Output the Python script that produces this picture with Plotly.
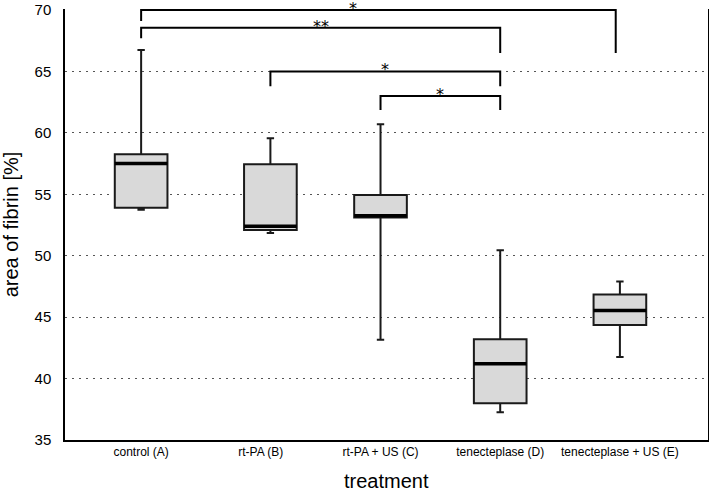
import plotly.graph_objects as go

# ---- data ----
categories = ["control (A)", "rt-PA (B)", "rt-PA + US (C)", "tenecteplase (D)", "tenecteplase + US (E)"]
upper_whisker = [66.75, 59.55, 60.7, 50.45, 47.9]
q3_values = [58.25, 57.45, 54.95, 43.2, 46.85]
medians = [57.5, 52.4, 53.25, 41.2, 45.55]
q1_values = [53.9, 52.1, 53.1, 38.0, 44.35]
lower_whisker = [53.75, 51.85, 43.15, 37.25, 41.75]

bracket_from = [0, 0, 1, 2]
bracket_to = [4, 3, 3, 3]
bracket_heights = [70.0, 68.55, 65.0, 63.0]
bracket_left_ends = [69.1, 67.7, 63.8, 61.85]
bracket_right_ends = [66.5, 66.5, 63.8, 61.85]
bracket_labels = ["*", "**", "*", "*"]

y_ticks = [35, 40, 45, 50, 55, 60, 65, 70]

# ---- layout helpers ----
pos = [0, 1.08, 2, 3, 4]   # box centre positions (B drawn slightly right in original)
box_w = 0.44
label_x = [1.77, 1.5, None, None]

fig = go.Figure()

fig.add_trace(go.Box(
    x=pos, q1=q1_values, median=medians, q3=q3_values,
    lowerfence=lower_whisker, upperfence=upper_whisker,
    width=box_w, whiskerwidth=0.14,
    fillcolor="#d9d9d9", line=dict(color="#1a1a1a", width=2),
    boxpoints=False, showlegend=False, hoverinfo="skip"))

# thick median lines
for p, m in zip(pos, medians):
    fig.add_trace(go.Scatter(x=[p - box_w / 2, p + box_w / 2], y=[m, m], mode="lines",
                             line=dict(color="#000000", width=3.5), showlegend=False,
                             hoverinfo="skip"))

# significance brackets
for i, (a, b) in enumerate(zip(bracket_from, bracket_to)):
    xa, xb = pos[a], pos[b]
    if b == 4:
        xb = pos[b] - 0.035
    h = bracket_heights[i]
    fig.add_trace(go.Scatter(
        x=[xa, xa, xb, xb], y=[bracket_left_ends[i], h, h, bracket_right_ends[i]],
        mode="lines", line=dict(color="#000000", width=2), showlegend=False,
        hoverinfo="skip", cliponaxis=False))
    lx = label_x[i] if label_x[i] is not None else (xa + xb) / 2
    fig.add_annotation(x=lx, y=h, text=bracket_labels[i], showarrow=False,
                       yanchor="bottom", yshift=-10,
                       font=dict(size=16, color="#000", family="DejaVu Sans, sans-serif"))

# x-axis title
fig.add_annotation(x=0.5, y=0, xref="paper", yref="paper", text="treatment",
                   showarrow=False, yanchor="middle", yshift=-41, borderpad=0,
                   font=dict(size=20, color="#000"))

fig.update_layout(
    width=709, height=492,
    margin=dict(l=65, r=1, t=9, b=52),
    plot_bgcolor="white", paper_bgcolor="white",
    font=dict(family="Liberation Sans, Arial, sans-serif", color="#000"),
    xaxis=dict(
        range=[-0.636, 4.736], tickmode="array", tickvals=[0, 1, 2, 3, 4],
        ticktext=categories, tickfont=dict(size=12), showgrid=False, zeroline=False,
        showline=True, linecolor="#000", linewidth=1.5, ticks="", automargin=False,
    ),
    yaxis=dict(
        range=[35, 70.08], tickmode="array", tickvals=y_ticks,
        tickfont=dict(size=15), showgrid=True, gridcolor="#555",
        griddash="1.5px,5.5px", gridwidth=1, zeroline=False,
        showline=True, mirror=True, linecolor="#000", linewidth=1.5, ticks="",
        ticklabelstandoff=9, automargin=False,
        title=dict(text="area of fibrin [%]", font=dict(size=20), standoff=12),
    ),
)

fig.write_html("out.html", config={"displayModeBar": False},
               post_script="document.body.style.margin='0';document.body.style.overflow='hidden';")
